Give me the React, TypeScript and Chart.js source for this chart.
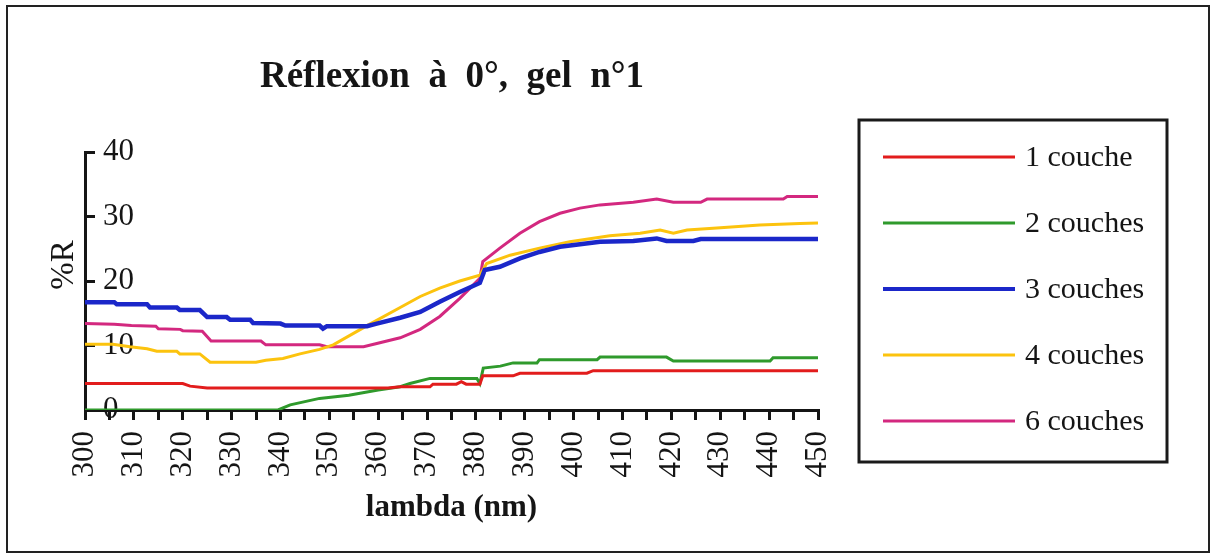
import React, { useEffect, useRef } from "react";
import { Chart, registerables } from "chart.js";

Chart.register(...registerables);

// ---- data ----
const chartTitle = "Réflexion  à  0°,  gel  n°1";
const xTitle = "lambda (nm)";
const yTitle = "%R";
const seriesLabels = ["1 couche", "2 couches", "3 couches", "4 couches", "6 couches"];

const xMin = 300;
const xMax = 450;
const xStep = 5;
const yMin = 0;
const yMax = 40;
const yStep = 5;

const lambda1 = [300, 320, 321.5, 325, 362, 364.5, 370.6, 371.2, 376, 377, 378, 380.8, 381.4, 387.6, 389, 402.7, 404, 450];
const r1 = [4.1, 4.1, 3.7, 3.4, 3.4, 3.6, 3.6, 4.0, 4.0, 4.4, 4.0, 4.0, 5.3, 5.3, 5.7, 5.7, 6.1, 6.1];

const lambda2 = [300, 339.5, 342, 348, 354, 360, 364.5, 366.5, 370.6, 380.2, 380.8, 381.5, 385, 387.6, 392.5, 393, 404.8, 405.4, 419, 420.4, 440.2, 440.8, 450];
const r2 = [0, 0, 0.8, 1.8, 2.3, 3.1, 3.6, 4.1, 4.9, 4.9, 4.1, 6.5, 6.8, 7.3, 7.3, 7.8, 7.8, 8.2, 8.2, 7.6, 7.6, 8.1, 8.1];

const lambda3 = [300, 306, 306.5, 312.7, 313.3, 318.8, 319.4, 323.5, 325, 329, 329.7, 333.8, 334.4, 340, 341, 348, 348.7, 349.5, 357.7, 359.7, 364.5, 368.6, 372.6, 376.7, 380.8, 381.8, 384.9, 389, 393, 397.2, 401.3, 405.4, 412.2, 417, 419, 424.5, 426, 450];
const r3 = [16.7, 16.7, 16.4, 16.4, 15.9, 15.9, 15.5, 15.5, 14.4, 14.4, 14.0, 14.0, 13.5, 13.4, 13.1, 13.1, 12.6, 13.0, 13.0, 13.4, 14.3, 15.2, 16.8, 18.3, 19.7, 21.7, 22.2, 23.5, 24.5, 25.3, 25.7, 26.1, 26.2, 26.6, 26.2, 26.2, 26.5, 26.5];

const lambda4 = [300, 305.7, 309.2, 312.7, 314.7, 318.8, 319.4, 323.5, 325.6, 335, 337, 340.5, 344, 348, 350.8, 358, 364.5, 368.6, 372.6, 376.7, 380.8, 382.2, 387, 393, 399.2, 407.4, 413.6, 417.7, 420.4, 423.2, 429.3, 438.1, 446.3, 450];
const r4 = [10.2, 10.2, 9.8, 9.5, 9.1, 9.1, 8.7, 8.7, 7.4, 7.4, 7.7, 8.0, 8.7, 9.4, 10.1, 13.2, 15.9, 17.6, 18.9, 20.0, 20.9, 22.7, 24.0, 25.1, 26.1, 27.0, 27.4, 27.9, 27.4, 27.9, 28.2, 28.7, 28.9, 29.0];

const lambda6 = [300, 306, 309.5, 314.5, 315, 319.5, 320, 324, 325.8, 336, 337, 348, 349.5, 357, 359.7, 364.5, 368.6, 372.6, 376.7, 380.8, 381.4, 384.9, 389, 393, 397.2, 401.3, 405.4, 412.2, 417, 420.4, 426, 427.3, 442.9, 443.7, 450];
const r6 = [13.4, 13.3, 13.1, 13.0, 12.6, 12.5, 12.3, 12.2, 10.7, 10.7, 10.1, 10.1, 9.8, 9.8, 10.3, 11.2, 12.5, 14.5, 17.3, 20.4, 23.0, 25.1, 27.4, 29.2, 30.5, 31.3, 31.8, 32.2, 32.7, 32.2, 32.2, 32.7, 32.7, 33.1, 33.1];

const seriesLambdas = [lambda1, lambda2, lambda3, lambda4, lambda6];
const seriesValues = [r1, r2, r3, r4, r6];

// ---- styles ----
const seriesColors = ["#e21c1c", "#2f9a2c", "#1b27c9", "#fcc30e", "#d3287f"];
const seriesWidths = [3, 3, 4.5, 3, 3];
const INK = "#151515";
const SERIF = "'Liberation Serif', 'Times New Roman', serif";

const decorPlugin = {
  id: "decor",
  beforeDraw(chart: any) {
    const ctx = chart.ctx;
    ctx.save();
    ctx.fillStyle = "#ffffff";
    ctx.fillRect(0, 0, chart.width, chart.height);
    ctx.restore();
  },
  afterDraw(chart: any) {
    const ctx = chart.ctx;
    const yScale = chart.scales.y;
    ctx.save();
    // outer frame
    ctx.strokeStyle = "#222";
    ctx.lineWidth = 2;
    ctx.strokeRect(7, 6, 1202, 546);

    // title
    ctx.fillStyle = INK;
    ctx.font = `bold 37px ${SERIF}`;
    ctx.textAlign = "center";
    ctx.textBaseline = "alphabetic";
    ctx.fillText(chartTitle, 452, 87);

    // y axis title (rotated, reading upward)
    ctx.save();
    const yTitleCenter = (yScale.getPixelForValue(yMax) + yScale.getPixelForValue(yMin)) / 2 - 16;
    ctx.translate(64, yTitleCenter);
    ctx.rotate(-Math.PI / 2);
    ctx.font = `33px ${SERIF}`;
    ctx.textAlign = "center";
    ctx.textBaseline = "middle";
    ctx.fillStyle = INK;
    ctx.fillText(yTitle, 0, 0);
    ctx.restore();

    // legend box
    ctx.strokeStyle = "#1a1a1a";
    ctx.lineWidth = 3;
    ctx.strokeRect(859, 120, 308, 342);
    const ds = chart.data.datasets;
    ds.forEach((d: any, i: number) => {
      const y = 157 + i * 66;
      ctx.strokeStyle = d.borderColor;
      ctx.lineWidth = Math.min(d.borderWidth, 4);
      ctx.beginPath();
      ctx.moveTo(883, y);
      ctx.lineTo(1015, y);
      ctx.stroke();
      ctx.fillStyle = INK;
      ctx.font = `30px ${SERIF}`;
      ctx.textAlign = "left";
      ctx.textBaseline = "middle";
      ctx.fillText(d.label, 1025, y + 1);
    });
    ctx.restore();
  },
};

export default function App() {
  const canvasRef = useRef<HTMLCanvasElement | null>(null);

  useEffect(() => {
    if (!canvasRef.current) return;
    const datasets = seriesLabels.map((label, i) => ({
      label,
      data: seriesLambdas[i].map((x, j) => ({ x, y: seriesValues[i][j] })),
      borderColor: seriesColors[i],
      backgroundColor: seriesColors[i],
      borderWidth: seriesWidths[i],
      pointRadius: 0,
      tension: 0,
      fill: false,
    }));

    const chart = new Chart(canvasRef.current, {
      type: "line",
      data: { datasets },
      plugins: [decorPlugin],
      options: {
        responsive: false,
        animation: false,
        devicePixelRatio: 1,
        layout: { padding: { top: 152, right: 396, left: 0, bottom: 0 } },
        plugins: {
          legend: { display: false },
          title: { display: false },
          tooltip: { enabled: false },
        },
        scales: {
          x: {
            type: "linear",
            min: xMin,
            max: xMax,
            afterFit: (scale: any) => {
              scale.height = 145;
            },
            ticks: {
              stepSize: xStep,
              autoSkip: false,
              minRotation: 90,
              maxRotation: 90,
              padding: 11,
              color: INK,
              font: { family: SERIF, size: 31 },
              callback: (v: any) => (Number(v) % 10 === 0 ? String(v) : ""),
            },
            grid: {
              drawOnChartArea: false,
              drawTicks: true,
              tickLength: 10,
              color: INK,
              lineWidth: 3,
            },
            border: { display: true, color: INK, width: 3 },
            title: {
              display: true,
              text: xTitle,
              color: INK,
              font: { family: SERIF, size: 31, weight: "bold" },
              padding: { top: 0, bottom: 28 },
            },
          },
          y: {
            type: "linear",
            min: yMin,
            max: yMax,
            afterFit: (scale: any) => {
              scale.width = 85;
            },
            ticks: {
              stepSize: yStep,
              mirror: true,
              padding: 18,
              color: INK,
              font: { family: SERIF, size: 31 },
              callback: (v: any) => (Number(v) % 10 === 0 ? String(v) : ""),
            },
            grid: {
              drawOnChartArea: false,
              drawTicks: true,
              tickLength: -10,
              color: INK,
              lineWidth: 3,
            },
            border: { display: true, color: INK, width: 3 },
            title: { display: false },
          },
        },
      } as any,
    });
    return () => chart.destroy();
  }, []);

  return (
    <div style={{ position: "absolute", left: 0, top: 0, width: 1214, height: 555, background: "#fff" }}>
      <canvas ref={canvasRef} width={1214} height={555} />
    </div>
  );
}
